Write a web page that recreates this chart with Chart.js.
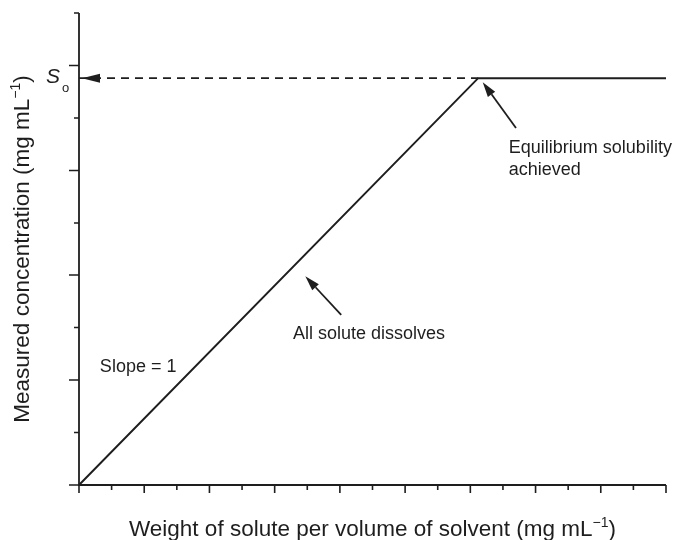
<!DOCTYPE html>
<html>
<head>
<meta charset="utf-8">
<style>
  html, body { margin: 0; padding: 0; background: #ffffff; }
  #wrap { width: 678px; height: 540px; }
</style>
<script src="https://cdn.jsdelivr.net/npm/chart.js@4.4.1/dist/chart.umd.min.js"></script>
</head>
<body>
<div id="wrap"><canvas id="chart" width="678" height="540"></canvas></div>
<script>
// Weight added (x) and measured concentration (y): rises with slope 1 until
// the equilibrium solubility S_o is reached, then stays flat.
const weightAdded = [0, 6.12, 9];
const measuredConc = [0, 6.12, 6.12];
const solubilityLevel = 6.12;

// Axis tick values (no tick labels are shown)
const xMajorTicks = [0, 1, 2, 3, 4, 5, 6, 7, 8, 9];
const xMinorTicks = [0.5, 1.5, 2.5, 3.5, 4.5, 5.5, 6.5, 7.5, 8.5];
const yMajorTicks = [0, 1.58, 3.16, 4.73, 6.31];
const yMinorTicks = [0.79, 2.37, 3.94, 5.52, 7.1];

const xTitle = ['Weight of solute per volume of solvent (mg mL', '\u22121', ')'];
const yTitle = ['Measured concentration (mg mL', '\u22121', ')'];

const INK = '#1e1e1e';
const FONT = '"Liberation Sans", Arial, Helvetica, sans-serif';

const curve = weightAdded.map((x, i) => ({ x: x, y: measuredConc[i] }));
const dashed = [{ x: 0, y: solubilityLevel }, { x: weightAdded[1], y: solubilityLevel }];

function arrow(ctx, x0, y0, x1, y1, headLen, headHalf) {
  const ang = Math.atan2(y1 - y0, x1 - x0);
  const bx = x1 - headLen * Math.cos(ang);
  const by = y1 - headLen * Math.sin(ang);
  ctx.beginPath();
  ctx.moveTo(x0, y0);
  ctx.lineTo(bx, by);
  ctx.stroke();
  ctx.beginPath();
  ctx.moveTo(x1, y1);
  ctx.lineTo(bx + headHalf * Math.sin(ang), by - headHalf * Math.cos(ang));
  ctx.lineTo(bx - headHalf * Math.sin(ang), by + headHalf * Math.cos(ang));
  ctx.closePath();
  ctx.fill();
}

// text with a raised superscript part: [before, sup, after]
function richWidth(ctx, parts, size, supSize) {
  ctx.font = size + 'px ' + FONT;
  let w = ctx.measureText(parts[0]).width + ctx.measureText(parts[2]).width;
  ctx.font = supSize + 'px ' + FONT;
  w += ctx.measureText(parts[1]).width;
  return w;
}
function drawRich(ctx, parts, x, y, size, supSize, rise) {
  ctx.textAlign = 'left';
  ctx.textBaseline = 'alphabetic';
  ctx.font = size + 'px ' + FONT;
  ctx.fillText(parts[0], x, y);
  x += ctx.measureText(parts[0]).width;
  ctx.font = supSize + 'px ' + FONT;
  ctx.fillText(parts[1], x, y - rise);
  x += ctx.measureText(parts[1]).width;
  ctx.font = size + 'px ' + FONT;
  ctx.fillText(parts[2], x, y);
}

const decorations = {
  id: 'decorations',
  afterDraw(chart) {
    const ctx = chart.ctx;
    const xs = chart.scales.x, ys = chart.scales.y;
    const X = v => xs.getPixelForValue(v);
    const Y = v => ys.getPixelForValue(v);
    const left = X(xs.min), right = X(xs.max), bottom = Y(ys.min), top = Y(ys.max);

    ctx.save();
    ctx.strokeStyle = INK;
    ctx.fillStyle = INK;
    ctx.lineCap = 'butt';

    // axis lines
    ctx.lineWidth = 1.8;
    ctx.beginPath();
    ctx.moveTo(left, top);
    ctx.lineTo(left, bottom);
    ctx.lineTo(right, bottom);
    ctx.stroke();

    // tick marks, outward
    ctx.lineWidth = 1.6;
    ctx.beginPath();
    xMajorTicks.forEach(v => { ctx.moveTo(X(v), bottom); ctx.lineTo(X(v), bottom + 8); });
    xMinorTicks.forEach(v => { ctx.moveTo(X(v), bottom); ctx.lineTo(X(v), bottom + 5); });
    yMajorTicks.forEach(v => { ctx.moveTo(left, Y(v)); ctx.lineTo(left - 10, Y(v)); });
    yMinorTicks.forEach(v => { ctx.moveTo(left, Y(v)); ctx.lineTo(left - 5, Y(v)); });
    ctx.stroke();

    // arrowhead of the dashed S_o line, pointing at the y axis
    const sy = Y(solubilityLevel);
    ctx.beginPath();
    ctx.moveTo(left + 3, sy);
    ctx.lineTo(left + 21, sy - 4.5);
    ctx.lineTo(left + 21, sy + 4.5);
    ctx.closePath();
    ctx.fill();

    // annotation arrows
    ctx.lineWidth = 1.8;
    arrow(ctx, X(6.70), Y(5.37), X(6.19), Y(6.06), 15, 4.5);
    arrow(ctx, X(4.02), Y(2.56), X(3.47), Y(3.14), 15, 4.5);

    // annotation texts
    ctx.textAlign = 'left';
    ctx.textBaseline = 'middle';
    ctx.font = '18px ' + FONT;
    ctx.fillText('Equilibrium solubility', X(6.59), Y(5.07));
    ctx.fillText('achieved', X(6.59), Y(5.07) + 22);
    ctx.fillText('All solute dissolves', X(3.28), Y(2.27));
    ctx.fillText('Slope = 1', X(0.32), Y(1.77));

    // S_o label
    ctx.textBaseline = 'alphabetic';
    ctx.font = 'italic 21px ' + FONT;
    ctx.fillText('S', left - 33, sy + 5);
    ctx.font = '13px ' + FONT;
    ctx.fillText('o', left - 17, sy + 14);

    // axis titles
    const w = richWidth(ctx, xTitle, 22.5, 14);
    drawRich(ctx, xTitle, (left + right) / 2 - w / 2, bottom + 51, 22.5, 14, 9);

    const wy = richWidth(ctx, yTitle, 22.5, 14);
    ctx.translate(29, (top + bottom) / 2);
    ctx.rotate(-Math.PI / 2);
    drawRich(ctx, yTitle, -wy / 2, 0, 22.5, 14, 9);

    ctx.restore();
  }
};

new Chart(document.getElementById('chart'), {
  type: 'line',
  data: {
    datasets: [
      {
        data: curve,
        borderColor: INK,
        borderWidth: 2,
        pointRadius: 0,
        tension: 0,
        clip: false
      },
      {
        data: dashed,
        borderColor: INK,
        borderWidth: 1.6,
        borderDash: [8, 6],
        pointRadius: 0,
        tension: 0,
        clip: false
      }
    ]
  },
  options: {
    responsive: false,
    devicePixelRatio: 1,
    animation: false,
    layout: { padding: { left: 79, right: 12, top: 13, bottom: 55 } },
    plugins: { legend: { display: false }, tooltip: { enabled: false } },
    scales: {
      x: { type: 'linear', min: 0, max: 9, display: false },
      y: { type: 'linear', min: 0, max: 7.1, display: false }
    }
  },
  plugins: [decorations]
});
</script>
</body>
</html>
